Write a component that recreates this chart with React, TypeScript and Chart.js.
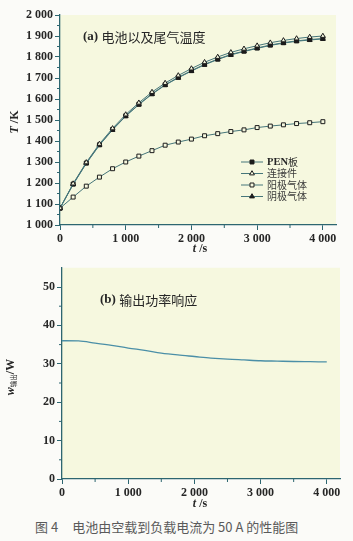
import React, { useEffect, useRef } from 'react';
import { Chart, registerables } from 'chart.js';
Chart.register(...registerables);

// ---------- data ----------
const timeA = [0, 200, 400, 600, 800, 1000, 1200, 1400, 1600, 1800, 2000, 2200, 2400, 2600, 2800, 3000, 3200, 3400, 3600, 3800, 4000];
const penBoard = [1080, 1195, 1295, 1382, 1455, 1520, 1575, 1625, 1668, 1703, 1735, 1765, 1790, 1812, 1828, 1843, 1857, 1868, 1877, 1883, 1888];
const connector = [1080, 1197, 1298, 1386, 1460, 1526, 1582, 1633, 1676, 1712, 1745, 1775, 1800, 1822, 1839, 1854, 1868, 1879, 1888, 1895, 1900];
const anodeGas = [1080, 1133, 1185, 1228, 1268, 1300, 1328, 1354, 1380, 1395, 1409, 1425, 1435, 1445, 1453, 1464, 1471, 1477, 1483, 1487, 1492];
const cathodeGas = [1080, 1193, 1293, 1380, 1453, 1518, 1573, 1623, 1666, 1701, 1733, 1763, 1788, 1810, 1826, 1841, 1855, 1866, 1875, 1881, 1886];
const seriesNames = ['PEN板', '连接件', '阳极气体', '阴极气体'];

const timeB = [0, 250, 500, 750, 1000, 1250, 1500, 1750, 2000, 2250, 2500, 2750, 3000, 3250, 3500, 3750, 4000];
const outputPower = [36.0, 35.95, 35.4, 34.8, 34.1, 33.5, 32.8, 32.3, 31.9, 31.5, 31.2, 31.0, 30.8, 30.7, 30.6, 30.55, 30.5];

const xTicks = [0, 1000, 2000, 3000, 4000];
const yTicksA = [1000, 1100, 1200, 1300, 1400, 1500, 1600, 1700, 1800, 1900, 2000];
const yTicksB = [0, 10, 20, 30, 40, 50];
const minorXTicks = [500, 1500, 2500, 3500];
const minorYTicksA = [1050, 1150, 1250, 1350, 1450, 1550, 1650, 1750, 1850, 1950];
const minorYTicksB = [5, 15, 25, 35, 45];

const titleA = ['(a) ', '电池以及尾气温度'];
const titleB = ['(b) ', '输出功率响应'];
const caption = ['图 4', '电池由空载到负载电流为 50 A 的性能图'];

// ---------- styles ----------
const AXIS = '#2d6670';
const PLOT_BG = '#f6f8df';
const LINE_A = '#46767a';
const LINE_B = '#4b8fa7';
const MARK = '#1c1c1c';
const TXT = '#262626';
const SERIF = '"Liberation Serif", "Times New Roman", serif';
const CJK = '"Noto Sans CJK SC", sans-serif';

const fmt = (v: number) => {
  const s = String(v);
  return v >= 1000 ? s.slice(0, -3) + ' ' + s.slice(-3) : s;
};

type Run = { text: string; font: string; dy?: number; color?: string };

function drawRuns(ctx: CanvasRenderingContext2D, runs: Run[], x: number, y: number, align: 'left' | 'center') {
  let total = 0;
  for (const r of runs) {
    ctx.font = r.font;
    total += ctx.measureText(r.text).width;
  }
  let cx = align === 'center' ? x - total / 2 : x;
  ctx.textBaseline = 'middle';
  ctx.textAlign = 'left';
  for (const r of runs) {
    ctx.font = r.font;
    ctx.fillStyle = r.color || TXT;
    ctx.fillText(r.text, cx, y + (r.dy || 0));
    cx += ctx.measureText(r.text).width;
  }
}

function drawMarker(ctx: CanvasRenderingContext2D, style: string, x: number, y: number, r: number, fill: string, stroke: string) {
  ctx.beginPath();
  if (style === 'rect') {
    const s = Math.SQRT1_2 * r;
    ctx.rect(x - s, y - s, 2 * s, 2 * s);
  } else {
    const h = r;
    ctx.moveTo(x, y - h);
    ctx.lineTo(x + h * 0.866, y + h * 0.5);
    ctx.lineTo(x - h * 0.866, y + h * 0.5);
    ctx.closePath();
  }
  ctx.fillStyle = fill;
  ctx.fill();
  ctx.lineWidth = 1;
  ctx.strokeStyle = stroke;
  ctx.stroke();
}

function decorPlugin(minorX: number[], minorY: number[], extras: (ctx: CanvasRenderingContext2D, chart: any) => void) {
  return {
    id: 'decor',
    beforeDraw(chart: any) {
      const { ctx, chartArea: a } = chart;
      ctx.save();
      ctx.fillStyle = PLOT_BG;
      ctx.fillRect(a.left, a.top, a.right - a.left, a.bottom - a.top);
      ctx.restore();
    },
    afterDraw(chart: any) {
      const { ctx, chartArea: a, scales } = chart;
      ctx.save();
      ctx.strokeStyle = AXIS;
      ctx.lineWidth = 1;
      for (const v of minorX) {
        const px = scales.x.getPixelForValue(v);
        ctx.beginPath();
        ctx.moveTo(px, a.bottom);
        ctx.lineTo(px, a.bottom + 3);
        ctx.stroke();
      }
      for (const v of minorY) {
        const py = scales.y.getPixelForValue(v);
        ctx.beginPath();
        ctx.moveTo(a.left - 3, py);
        ctx.lineTo(a.left, py);
        ctx.stroke();
      }
      extras(ctx, chart);
      ctx.restore();
    },
  };
}

function axisOpts(min: number, max: number, tickVals: number[], leftW: number | null, bottomH: number | null) {
  return {
    type: 'linear',
    min,
    max,
    afterBuildTicks: (s: any) => {
      s.ticks = tickVals.map((v) => ({ value: v }));
    },
    ticks: {
      autoSkip: false,
      maxRotation: 0,
      padding: 2,
      color: TXT,
      font: { family: SERIF, size: 12, weight: 'bold' },
      callback: (v: number) => fmt(v),
    },
    grid: { display: true, drawOnChartArea: false, drawTicks: true, tickLength: 5, color: AXIS, tickColor: AXIS, tickWidth: 1 },
    border: { display: true, color: AXIS, width: 1.3 },
    afterFit: (s: any) => {
      if (leftW !== null) {
        s.width = leftW;
        s.paddingTop = 0;
        s.paddingBottom = 0;
      }
      if (bottomH !== null) {
        s.height = bottomH;
        s.paddingLeft = 0;
        s.paddingRight = 0;
      }
    },
  };
}

const legendStyles = [
  { style: 'rect', fill: MARK },
  { style: 'triangle', fill: PLOT_BG },
  { style: 'rect', fill: PLOT_BG },
  { style: 'triangle', fill: MARK },
];

function ChartA() {
  const ref = useRef<HTMLCanvasElement>(null);
  useEffect(() => {
    const mk = (vals: number[], i: number) => ({
      label: seriesNames[i],
      data: timeA.map((t, k) => ({ x: t, y: vals[k] })),
      borderColor: LINE_A,
      borderWidth: 1,
      pointStyle: legendStyles[i].style,
      pointRadius: 2.8,
      pointBackgroundColor: legendStyles[i].fill,
      pointBorderColor: MARK,
      pointBorderWidth: 1,
      tension: 0,
    });
    const chart = new Chart(ref.current!, {
      type: 'line',
      data: {
        datasets: [mk(connector, 1), mk(anodeGas, 2), mk(penBoard, 0), mk(cathodeGas, 3)],
      },
      options: {
        responsive: false,
        animation: false,
        layout: { padding: { top: 15, right: 17, left: 0, bottom: 0 } },
        plugins: { legend: { display: false }, tooltip: { enabled: false } },
        scales: {
          x: axisOpts(0, 4200, xTicks, null, 30),
          y: axisOpts(1000, 2000, yTicksA, 60, null),
        },
      } as any,
      plugins: [
        decorPlugin(minorXTicks, minorYTicksA, (ctx) => {
          drawRuns(ctx, [
            { text: titleA[0], font: `bold 13px ${SERIF}` },
            { text: titleA[1], font: `13px ${CJK}` },
          ], 83, 37, 'left');
          // legend
          const rows = [162, 173.5, 185, 196.5];
          seriesNames.forEach((name, i) => {
            const y = rows[i];
            ctx.strokeStyle = LINE_A;
            ctx.lineWidth = 1;
            ctx.beginPath();
            ctx.moveTo(241, y);
            ctx.lineTo(263, y);
            ctx.stroke();
            drawMarker(ctx, legendStyles[i].style, 252, y, 2.8, legendStyles[i].fill, MARK);
            if (i === 0) {
              drawRuns(ctx, [
                { text: 'PEN', font: `bold 10.5px ${SERIF}` },
                { text: '板', font: `10px ${CJK}` },
              ], 267, y, 'left');
            } else {
              drawRuns(ctx, [{ text: name, font: `10px ${CJK}`, color: '#3a3a3a' }], 267, y, 'left');
            }
          });
          // axis titles
          drawRuns(ctx, [
            { text: 't', font: `italic bold 12px ${SERIF}` },
            { text: ' /s', font: `bold 12px ${SERIF}` },
          ], 200, 249, 'center');
          ctx.save();
          ctx.translate(15, 122);
          ctx.rotate(-Math.PI / 2);
          drawRuns(ctx, [
            { text: 'T', font: `italic bold 12px ${SERIF}` },
            { text: ' /K', font: `bold 12px ${SERIF}` },
          ], 0, 0, 'center');
          ctx.restore();
        }),
      ],
    });
    return () => chart.destroy();
  }, []);
  return <canvas ref={ref} width={353} height={255} style={{ position: 'absolute', left: 0, top: 0, display: 'block' }} />;
}

function ChartB() {
  const ref = useRef<HTMLCanvasElement>(null);
  useEffect(() => {
    const chart = new Chart(ref.current!, {
      type: 'line',
      data: {
        datasets: [
          {
            label: '输出功率',
            data: timeB.map((t, k) => ({ x: t, y: outputPower[k] })),
            borderColor: LINE_B,
            borderWidth: 1.3,
            pointRadius: 0,
            cubicInterpolationMode: 'monotone',
          },
        ],
      },
      options: {
        responsive: false,
        animation: false,
        layout: { padding: { top: 12.8, right: 13, left: 0, bottom: 0 } },
        plugins: { legend: { display: false }, tooltip: { enabled: false } },
        scales: {
          x: axisOpts(0, 4200, xTicks, null, 31),
          y: axisOpts(0, 55, yTicksB, 62, null),
        },
      } as any,
      plugins: [
        decorPlugin(minorXTicks, minorYTicksB, (ctx) => {
          drawRuns(ctx, [
            { text: titleB[0], font: `bold 13px ${SERIF}` },
            { text: titleB[1], font: `13px ${CJK}` },
          ], 100, 45, 'left');
          drawRuns(ctx, [
            { text: 't', font: `italic bold 12px ${SERIF}` },
            { text: ' /s', font: `bold 12px ${SERIF}` },
          ], 200, 249, 'center');
          ctx.save();
          ctx.translate(11, 122);
          ctx.rotate(-Math.PI / 2);
          drawRuns(ctx, [
            { text: 'w', font: `italic bold 12px ${SERIF}` },
            { text: '输出', font: `6.5px ${CJK}`, dy: 3 },
            { text: '/W', font: `bold 12px ${SERIF}` },
          ], 0, 0, 'center');
          ctx.restore();
        }),
      ],
    });
    return () => chart.destroy();
  }, []);
  return <canvas ref={ref} width={353} height={255} style={{ position: 'absolute', left: 0, top: 255, display: 'block' }} />;
}

export default function App() {
  return (
    <div style={{ position: 'absolute', left: 0, top: 0, width: 353, height: 541, background: '#fbfbf8', overflow: 'hidden' }}>
      <ChartA />
      <ChartB />
      <div
        style={{
          position: 'absolute',
          left: 35,
          top: 518,
          fontFamily: CJK,
          fontSize: 13,
          color: '#5a5a5a',
          whiteSpace: 'nowrap',
          lineHeight: '18px',
        }}
      >
        <span>{caption[0]}</span>
        <span style={{ marginLeft: 14 }}>{caption[1]}</span>
      </div>
    </div>
  );
}
